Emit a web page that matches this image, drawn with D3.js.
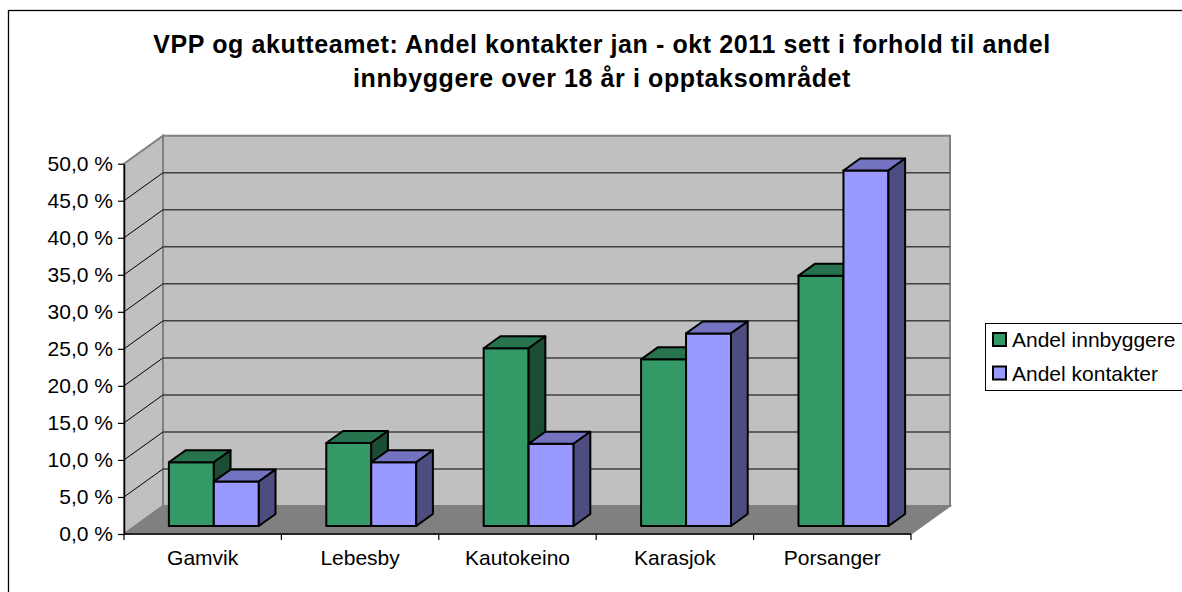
<!DOCTYPE html>
<html>
<head>
<meta charset="utf-8">
<script src="https://cdn.jsdelivr.net/npm/d3@7"></script>
<style>
  body { margin: 0; background: #fff; }
  svg { display: block; font-family: "Liberation Sans", Arial, sans-serif; }
</style>
</head>
<body>
<svg id="chart" width="1182" height="592"></svg>
<script>
const categories = ["Gamvik", "Lebesby", "Kautokeino", "Karasjok", "Porsanger"];
const seriesNames = ["Andel innbyggere", "Andel kontakter"];
const innbyggere = [8.6, 11.2, 24.0, 22.5, 33.8];
const kontakter = [6.0, 8.6, 11.1, 26.0, 48.0];
const yTicks = [0, 5, 10, 15, 20, 25, 30, 35, 40, 45, 50];
const titleLines = [
  "VPP og akutteamet: Andel kontakter jan - okt 2011 sett i forhold til andel",
  "innbyggere over 18 år i opptaksområdet"
];

// colours: front, top, side
const colors = [
  { front: "#339966", top: "#26734d", side: "#1a4d33" },
  { front: "#9999ff", top: "#7373bf", side: "#4d4d80" }
];

const svg = d3.select("#chart");

// front plane of the plot + depth offset
const x0 = 124, y0 = 534, W = 787, H = 370.3, DX = 39, DY = 28;
const t0 = 0.286, t1 = 0.714; // bar depth range inside the box

const y = d3.scaleLinear().domain([0, 50]).range([y0, y0 - H]);
const x = d3.scaleBand().domain(categories).range([x0, x0 + W]);
const xs = d3.scaleBand().domain(seriesNames).range([0, x.bandwidth()]).paddingOuter(0.75);

// outer border
svg.append("rect")
  .attr("x", 8.5).attr("y", 10.5)
  .attr("width", 1250).attr("height", 650)
  .attr("fill", "none").attr("stroke", "#000").attr("stroke-width", 1.3);

// title
svg.append("g").selectAll("text")
  .data(titleLines)
  .enter().append("text")
  .attr("x", 602)
  .attr("y", (d, i) => 53 + i * 33.5)
  .attr("text-anchor", "middle")
  .attr("font-size", 25)
  .attr("font-weight", "bold")
  .style("letter-spacing", "0.6px")
  .text(d => d);

const pt = (a) => a.map(p => p.join(",")).join(" ");

// walls + floor
const walls = svg.append("g");
walls.append("polygon") // left side wall
  .attr("points", pt([[x0, y(0)], [x0, y(50)], [x0 + DX, y(50) - DY], [x0 + DX, y(0) - DY]]))
  .attr("fill", "#c0c0c0").attr("stroke", "#808080").attr("stroke-width", 2);
walls.append("polygon") // back wall
  .attr("points", pt([[x0 + DX, y(50) - DY], [x0 + W + DX, y(50) - DY], [x0 + W + DX, y(0) - DY], [x0 + DX, y(0) - DY]]))
  .attr("fill", "#c0c0c0").attr("stroke", "#808080").attr("stroke-width", 2);
walls.append("polygon") // floor
  .attr("points", pt([[x0, y(0)], [x0 + DX, y(0) - DY], [x0 + W + DX, y(0) - DY], [x0 + W, y(0)]]))
  .attr("fill", "#808080").attr("stroke", "#808080").attr("stroke-width", 1.5);

const inner = yTicks.filter(v => v > 0 && v < 50);
walls.selectAll(".grid")
  .data(inner)
  .enter().append("line")
  .attr("x1", x0 + DX).attr("x2", x0 + W + DX)
  .attr("y1", d => y(d) - DY).attr("y2", d => y(d) - DY)
  .attr("stroke", "#404040").attr("stroke-width", 1.5);
walls.selectAll(".diag")
  .data(inner)
  .enter().append("line")
  .attr("x1", x0).attr("y1", d => y(d))
  .attr("x2", x0 + DX).attr("y2", d => y(d) - DY)
  .attr("stroke", "#000").attr("stroke-width", 1);

// y axis
const yAxis = svg.append("g")
  .attr("transform", `translate(${x0},0)`)
  .call(d3.axisLeft(y)
    .tickValues(yTicks)
    .tickSizeInner(6).tickSizeOuter(0)
    .tickPadding(5)
    .tickFormat(d => d3.format(".1f")(d).replace(".", ",") + " %"));
yAxis.select(".domain").attr("stroke", "#000").attr("stroke-width", 1.5);
yAxis.selectAll(".tick line").attr("stroke", "#000").attr("stroke-width", 1.2);
yAxis.selectAll(".tick text")
  .attr("font-size", 21).attr("fill", "#000")
  .style("font-family", "'Liberation Sans', Arial, sans-serif");

// x axis
const xAxis = svg.append("g");
xAxis.append("line")
  .attr("x1", x0).attr("x2", x0 + W)
  .attr("y1", y0).attr("y2", y0)
  .attr("stroke", "#000").attr("stroke-width", 1.5);
xAxis.selectAll(".xt")
  .data(categories.map(c => x(c)).concat([x0 + W]))
  .enter().append("line")
  .attr("x1", d => d).attr("x2", d => d)
  .attr("y1", y0).attr("y2", y0 + 6)
  .attr("stroke", "#000").attr("stroke-width", 1.2);
xAxis.selectAll(".xl")
  .data(categories)
  .enter().append("text")
  .attr("x", d => x(d) + x.bandwidth() / 2)
  .attr("y", 565)
  .attr("text-anchor", "middle")
  .attr("font-size", 21)
  .text(d => d);

// bars
const series = [innbyggere, kontakter];
const bw = xs.bandwidth();
const ddx = DX * (t1 - t0), ddy = DY * (t1 - t0);
const bars = svg.append("g");
categories.forEach((c, ci) => {
  seriesNames.forEach((s, si) => {
    const v = series[si][ci];
    const col = colors[si];
    const xl = x(c) + xs(s) + DX * t0;
    const xr = xl + bw;
    const yb = y(0) - DY * t0;
    const yt = y(v) - DY * t0;
    const g = bars.append("g")
      .attr("stroke", "#000").attr("stroke-width", 2).attr("stroke-linejoin", "round");
    g.append("polygon")
      .attr("points", pt([[xl, yb], [xl, yt], [xr, yt], [xr, yb]]))
      .attr("fill", col.front);
    g.append("polygon")
      .attr("points", pt([[xl, yt], [xl + ddx, yt - ddy], [xr + ddx, yt - ddy], [xr, yt]]))
      .attr("fill", col.top);
    g.append("polygon")
      .attr("points", pt([[xr, yt], [xr + ddx, yt - ddy], [xr + ddx, yb - ddy], [xr, yb]]))
      .attr("fill", col.side);
  });
});

// legend
const legend = svg.append("g");
legend.append("rect")
  .attr("x", 985.5).attr("y", 323.5)
  .attr("width", 220).attr("height", 67)
  .attr("fill", "#fff").attr("stroke", "#000").attr("stroke-width", 1);
const items = legend.selectAll(".item")
  .data(seriesNames)
  .enter().append("g")
  .attr("transform", (d, i) => `translate(993,${333 + i * 33.5})`);
items.append("rect")
  .attr("width", 13).attr("height", 13)
  .attr("fill", (d, i) => colors[i].front)
  .attr("stroke", "#000").attr("stroke-width", 2);
items.append("text")
  .attr("x", 19).attr("y", 14)
  .attr("font-size", 21)
  .text(d => d);
</script>
</body>
</html>
